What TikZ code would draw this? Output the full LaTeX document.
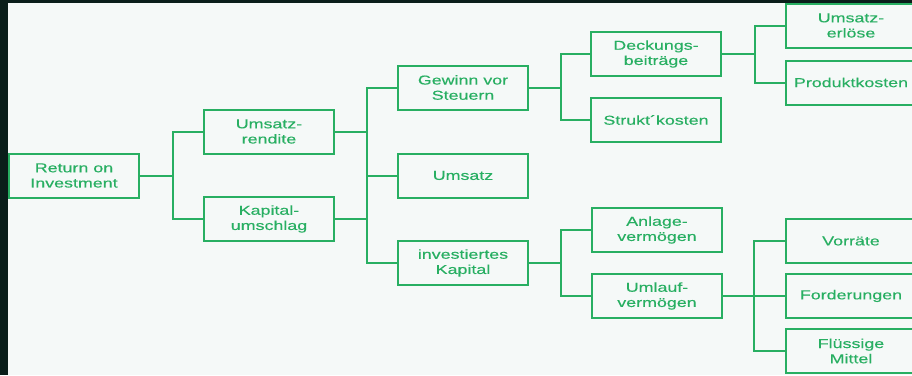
\documentclass[tikz,border=0pt]{standalone}
\usepackage{fontspec}
\setmainfont{Liberation Sans}[FakeStretch=1.38,FakeBold=0.3]

\definecolor{roigreen}{RGB}{40,175,98}
\definecolor{roiframe}{RGB}{10,30,26}
\definecolor{roipaper}{RGB}{245,249,248}

\tikzset{every picture/.style={line width=0.75pt}}
\tikzset{kbox/.style={draw=roigreen, line width=1.5pt, text=roigreen, fill=roipaper,
    minimum width=97.5pt, minimum height=33pt, inner sep=0pt, align=center,
    font=\fontsize{9.7}{11.4}\selectfont}}
\tikzset{kline/.style={draw=roigreen, line width=1.5pt}}

\begin{document}
\begin{tikzpicture}[x=0.75pt,y=0.75pt,yscale=-1,xscale=1]
	\clip (0,0) rectangle (912,375);
	%Frame and paper
	\fill [roiframe] (0,0) rectangle (912,375);
	\fill [roipaper] (8,3) rectangle (912,375);

	% Text Node
	\node [kbox] (roi) at (74,175.5) {Return on\\Investment};
	% Text Node
	\node [kbox] (rendite) at (269,131.5) {Umsatz-\\rendite};
	% Text Node
	\node [kbox] (umschlag) at (269,219) {Kapital-\\umschlag};
	% Text Node
	\node [kbox] (gewinn) at (463,87.5) {Gewinn vor\\Steuern};
	% Text Node
	\node [kbox] (umsatz) at (463,175.5) {Umsatz};
	% Text Node
	\node [kbox] (kapital) at (463,263) {investiertes\\Kapital};
	% Text Node
	\node [kbox] (deckung) at (656,54) {Deckungs-\\beiträge};
	% Text Node
	\node [kbox] (strukt) at (656,120) {Strukt´kosten};
	% Text Node
	\node [kbox] (anlage) at (657,230) {Anlage-\\vermögen};
	% Text Node
	\node [kbox] (umlauf) at (657,296) {Umlauf-\\vermögen};
	% Text Node
	\node [kbox] (erloese) at (851,25.5) {Umsatz-\\erlöse};
	% Text Node
	\node [kbox] (produkt) at (851,82.5) {Produktkosten};
	% Text Node
	\node [kbox] (vorraete) at (851,241) {Vorräte};
	% Text Node
	\node [kbox] (forder) at (851,296) {Forderungen};
	% Text Node
	\node [kbox] (fluessig) at (851,351) {Flüssige\\Mittel};

	%Straight Lines
	\draw [kline] (roi.east) -- ++(33,0) |- (rendite.west);
	\draw [kline] (roi.east) -- ++(33,0) |- (umschlag.west);
	%Straight Lines
	\draw [kline] (rendite.east) -- ++(32,0) |- (gewinn.west);
	\draw [kline] (umschlag.east) -- ++(32,0) |- (umsatz.west);
	\draw [kline] (umschlag.east) -- ++(32,0) |- (kapital.west);
	\draw [kline] (rendite.east) -- ++(32,0) |- (umsatz.west);
	%Straight Lines
	\draw [kline] (gewinn.east) -- ++(32,0) |- (deckung.west);
	\draw [kline] (gewinn.east) -- ++(32,0) |- (strukt.west);
	%Straight Lines
	\draw [kline] (kapital.east) -- ++(32,0) |- (anlage.west);
	\draw [kline] (kapital.east) -- ++(32,0) |- (umlauf.west);
	%Straight Lines
	\draw [kline] (deckung.east) -- ++(33,0) |- (erloese.west);
	\draw [kline] (deckung.east) -- ++(33,0) |- (produkt.west);
	%Straight Lines
	\draw [kline] (umlauf.east) -- ++(31,0) |- (vorraete.west);
	\draw [kline] (umlauf.east) -- ++(31,0) |- (forder.west);
	\draw [kline] (umlauf.east) -- ++(31,0) |- (fluessig.west);

\end{tikzpicture}
\end{document}
